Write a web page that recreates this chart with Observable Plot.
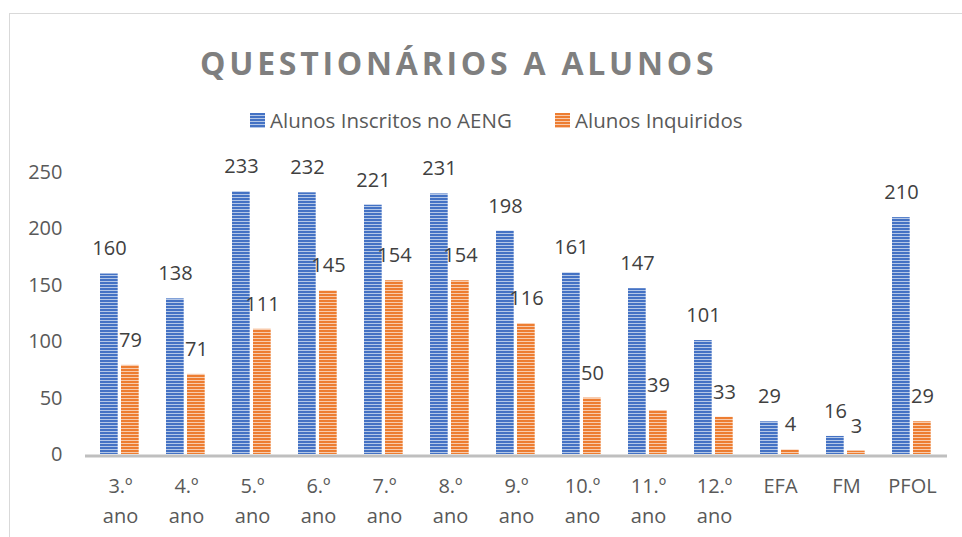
<!DOCTYPE html>
<html>
<head>
<meta charset="utf-8">
<script src="https://cdn.jsdelivr.net/npm/d3@7"></script>
<script src="https://cdn.jsdelivr.net/npm/@observablehq/plot@0.6"></script>
<style>
  html, body { margin: 0; padding: 0; background: #fff; }
  #wrap { position: relative; width: 962px; height: 537px; overflow: hidden; font-family: "Open Sans", sans-serif; }
  #frame { position: absolute; left: 9px; top: 13px; width: 960px; height: 530px; border-top: 1px solid #d9d9d9; border-left: 1px solid #d9d9d9; }
  #title { position: absolute; left: 200px; top: 47px; font-size: 32px; line-height: 32px; font-weight: 700; letter-spacing: 3.75px; color: #7f7f7f; white-space: nowrap; }
  .leg { position: absolute; top: 110px; font-size: 20.5px; line-height: 20.5px; color: #595959; white-space: nowrap; }
  .sw { position: absolute; top: 113px; }
  #chart { position: absolute; left: 0; top: 150px; }
</style>
</head>
<body>
<div id="wrap">
  <svg width="0" height="0" style="position:absolute">
    <defs>
      <pattern id="stripeBlue" patternUnits="userSpaceOnUse" width="6" height="3">
        <rect width="6" height="3" fill="#4472C4"></rect>
        <rect y="2" width="6" height="1" fill="#b4c7e7"></rect>
      </pattern>
      <pattern id="stripeOrange" patternUnits="userSpaceOnUse" width="6" height="3">
        <rect width="6" height="3" fill="#ED7D31"></rect>
        <rect y="2" width="6" height="1" fill="#f8cbad"></rect>
      </pattern>
    </defs>
  </svg>
  <div id="frame"></div>
  <div id="title">QUESTIONÁRIOS A ALUNOS</div>
  <svg class="sw" style="left:250px" width="15" height="15"><rect width="15" height="15" fill="url(#stripeBlue)"></rect></svg>
  <div class="leg" style="left:270px">Alunos Inscritos no AENG</div>
  <svg class="sw" style="left:555px" width="15" height="15"><rect width="15" height="15" fill="url(#stripeOrange)"></rect></svg>
  <div class="leg" style="left:575px">Alunos Inquiridos</div>
  <div id="chart"></div>
</div>
<script>
const categories = ["3.º ano", "4.º ano", "5.º ano", "6.º ano", "7.º ano", "8.º ano", "9.º ano", "10.º ano", "11.º ano", "12.º ano", "EFA", "FM", "PFOL"];
const inscritos = [160, 138, 233, 232, 221, 231, 198, 161, 147, 101, 29, 16, 210];
const inquiridos = [79, 71, 111, 145, 154, 154, 116, 50, 39, 33, 4, 3, 29];
const yTicks = [0, 50, 100, 150, 200, 250];

const rows = categories.map((c, i) => ({cat: c, ins: inscritos[i], inq: inquiridos[i]}));

const chart = Plot.plot({
  width: 962,
  height: 384,
  marginTop: 22,
  marginBottom: 80,
  marginLeft: 85,
  marginRight: 15,
  x: {domain: categories, padding: 0},
  y: {domain: [0, 250]},
  style: {fontFamily: "Open Sans", fontSize: "20px", color: "#595959", background: "transparent"},
  marks: [
    Plot.axisY({ticks: yTicks, tickSize: 0, tickPadding: 23, fontSize: 20, label: null}),
    Plot.axisX({tickSize: 0, tickPadding: 17, lineHeight: 1.5, fontSize: 20, label: null,
                tickFormat: d => d.replace(" ", "\n")}),
    Plot.barY(rows, {x: "cat", y: "ins", fill: "url(#stripeBlue)", insetLeft: 13, insetRight: 35.3}),
    Plot.barY(rows, {x: "cat", y: "inq", fill: "url(#stripeOrange)", insetLeft: 34, insetRight: 14.3}),
    Plot.ruleY([0], {stroke: "#bfbfbf", strokeWidth: 3, dy: 1.5}),
    Plot.text(rows, {x: "cat", y: "ins", text: d => String(d.ins), dx: -11, dy: -25, lineAnchor: "middle", fill: "#404040", fontSize: 20}),
    Plot.text(rows, {x: "cat", y: "inq", text: d => String(d.inq), dx: 10, dy: -25, lineAnchor: "middle", fill: "#404040", fontSize: 20})
  ]
});
document.getElementById("chart").appendChild(chart);
</script>
</body>
</html>
